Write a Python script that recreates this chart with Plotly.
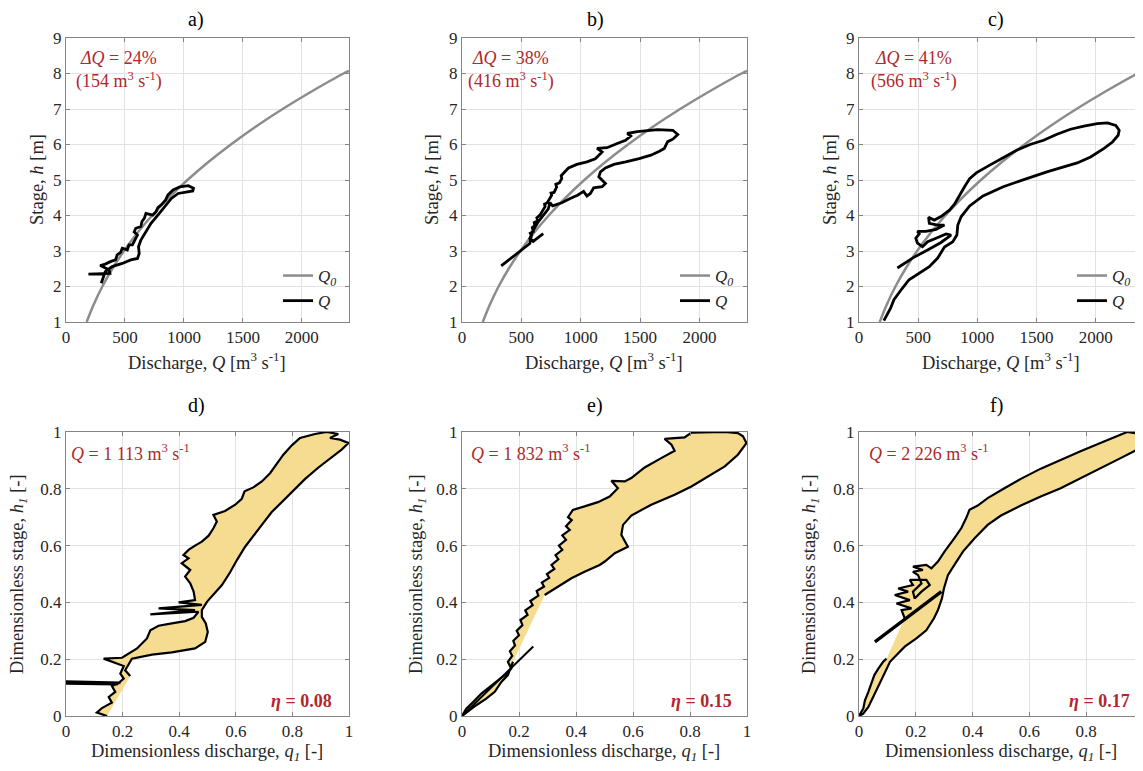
import plotly.graph_objects as go

# ---------------- data ----------------
panel_titles = ["a)", "b)", "c)", "d)", "e)", "f)"]
dQ_labels = ["<i>ΔQ</i> = 24%<br>(154 m<sup>3</sup> s<sup>-1</sup>)",
             "<i>ΔQ</i> = 38%<br>(416 m<sup>3</sup> s<sup>-1</sup>)",
             "<i>ΔQ</i> = 41%<br>(566 m<sup>3</sup> s<sup>-1</sup>)"]
Qpeak_labels = ["<i>Q</i> = 1 113 m<sup>3</sup> s<sup>-1</sup>",
                "<i>Q</i> = 1 832 m<sup>3</sup> s<sup>-1</sup>",
                "<i>Q</i> = 2 226 m<sup>3</sup> s<sup>-1</sup>"]
eta_labels = ["<b><i>η</i> = 0.08</b>", "<b><i>η</i> = 0.15</b>", "<b><i>η</i> = 0.17</b>"]

# steady rating curve Q0 (discharge, stage)
Q0_Q = [175, 236, 308, 393, 491, 603, 730, 872, 1030, 1205, 1398, 1608, 1837, 2086, 2354, 2400]
Q0_h = [1.0, 1.5, 2.0, 2.5, 3.0, 3.5, 4.0, 4.5, 5.0, 5.5, 6.0, 6.5, 7.0, 7.5, 8.0, 8.07]

# observed loops (Q [m3/s], h [m])
a_loop = [(299, 2.09), (333, 2.42), (391, 2.56), (477, 2.65), (549, 2.75), (606, 2.79), (621, 2.93),
          (615, 3.12), (635, 3.31), (678, 3.54), (721, 3.78), (779, 4.01), (836, 4.25), (894, 4.48),
          (951, 4.62), (1023, 4.67), (1075, 4.69), (1081, 4.77), (1037, 4.84), (966, 4.81), (908, 4.72),
          (865, 4.58), (845, 4.44), (808, 4.30), (779, 4.22), (764, 4.11), (736, 4.01), (678, 4.06),
          (664, 3.92), (644, 3.83), (635, 3.69), (592, 3.64), (578, 3.54), (606, 3.45), (586, 3.31),
          (563, 3.17), (534, 3.17), (520, 3.03), (477, 3.08), (463, 2.96), (434, 2.89), (420, 2.75),
          (376, 2.70), (333, 2.63), (290, 2.59), (365, 2.47), (372, 2.37), (190, 2.35)]
b_loop = [(330, 2.58), (429, 2.83), (514, 3.07), (571, 3.21), (585, 3.44), (575, 3.50), (600, 3.55),
          (592, 3.66), (613, 3.72), (608, 3.80), (640, 3.85), (630, 3.93), (656, 4.01), (684, 4.19),
          (700, 4.25), (695, 4.32), (718, 4.36), (755, 4.57), (750, 4.63), (775, 4.65), (797, 4.80),
          (790, 4.88), (820, 4.92), (840, 5.04), (835, 5.12), (860, 5.21), (897, 5.34), (967, 5.44),
          (1052, 5.51), (1123, 5.60), (1180, 5.79), (1137, 5.89), (1222, 5.91), (1307, 6.03),
          (1378, 6.12), (1421, 6.24), (1392, 6.31), (1477, 6.36), (1562, 6.40), (1647, 6.42),
          (1775, 6.40), (1817, 6.28), (1775, 6.15), (1732, 6.08), (1704, 5.89), (1662, 5.81),
          (1591, 5.70), (1492, 5.60), (1378, 5.51), (1279, 5.44), (1208, 5.34), (1166, 5.23),
          (1152, 5.09), (1208, 4.90), (1180, 4.81), (1109, 4.78), (1081, 4.62), (1052, 4.55),
          (1024, 4.68), (973, 4.57), (911, 4.48), (840, 4.36), (763, 4.27), (741, 4.36), (727, 4.19),
          (684, 4.01), (642, 3.82), (599, 3.58), (571, 3.35), (599, 3.27), (684, 3.49)]
c_loop = [(324, 2.52), (452, 2.80), (580, 3.03), (693, 3.24), (778, 3.45), (736, 3.48), (651, 3.36),
          (580, 3.26), (537, 3.12), (494, 3.22), (480, 3.36), (509, 3.48), (494, 3.55), (565, 3.55),
          (651, 3.61), (722, 3.73), (665, 3.73), (594, 3.78), (588, 3.95), (636, 3.87), (693, 3.97),
          (764, 4.15), (807, 4.32), (849, 4.58), (892, 4.81), (935, 5.04), (991, 5.20), (1105, 5.42),
          (1219, 5.63), (1332, 5.84), (1446, 6.00), (1560, 6.12), (1673, 6.29), (1787, 6.43),
          (1901, 6.52), (2014, 6.59), (2099, 6.61), (2170, 6.54), (2199, 6.40), (2190, 6.26),
          (2142, 6.07), (2071, 5.89), (1957, 5.65), (1844, 5.48), (1730, 5.37), (1588, 5.23),
          (1418, 5.04), (1219, 4.81), (1048, 4.55), (935, 4.27), (864, 3.97), (835, 3.73), (827, 3.45),
          (793, 3.26), (722, 3.11), (693, 2.96), (665, 2.80), (594, 2.56), (509, 2.37), (423, 2.19),
          (366, 1.95), (324, 1.77), (295, 1.63), (267, 1.39), (239, 1.20), (210, 1.04)]

# dimensionless loops (q1, h1)
d_loop = [(0.145, 0.0), (0.109, 0.012), (0.127, 0.028), (0.162, 0.047), (0.151, 0.067), (0.174, 0.085),
          (0.162, 0.106), (0.192, 0.118), (0.0, 0.122), (0.0, 0.114), (0.180, 0.111), (0.204, 0.132),
          (0.192, 0.149), (0.204, 0.176), (0.133, 0.202), (0.198, 0.205), (0.251, 0.238), (0.286, 0.273),
          (0.298, 0.302), (0.327, 0.318), (0.374, 0.326), (0.421, 0.334), (0.451, 0.346), (0.468, 0.367),
          (0.298, 0.358), (0.456, 0.373), (0.327, 0.379), (0.480, 0.391), (0.398, 0.400), (0.456, 0.408),
          (0.451, 0.438), (0.439, 0.467), (0.421, 0.491), (0.439, 0.514), (0.409, 0.538), (0.433, 0.555),
          (0.415, 0.567), (0.433, 0.585), (0.456, 0.600), (0.480, 0.614), (0.504, 0.635), (0.521, 0.661),
          (0.533, 0.685), (0.521, 0.708), (0.562, 0.722), (0.598, 0.744), (0.621, 0.765), (0.631, 0.791),
          (0.662, 0.805), (0.692, 0.826), (0.721, 0.855), (0.745, 0.887), (0.768, 0.920), (0.798, 0.953),
          (0.827, 0.979), (0.880, 0.993), (0.921, 1.0), (0.962, 0.993), (0.933, 0.979), (0.968, 0.973),
          (0.998, 0.961), (0.974, 0.938), (0.939, 0.911), (0.892, 0.875), (0.845, 0.835), (0.809, 0.800),
          (0.768, 0.761), (0.727, 0.718), (0.692, 0.673), (0.662, 0.632), (0.633, 0.596), (0.604, 0.549),
          (0.580, 0.506), (0.551, 0.461), (0.521, 0.426), (0.498, 0.402), (0.480, 0.373), (0.480, 0.349),
          (0.494, 0.326), (0.501, 0.296), (0.492, 0.261), (0.456, 0.238), (0.374, 0.224), (0.304, 0.216),
          (0.233, 0.202), (0.221, 0.179), (0.209, 0.161), (0.227, 0.141)]
e_loop = [(0.290, 0.426), (0.337, 0.455), (0.384, 0.485), (0.430, 0.508), (0.483, 0.532), (0.501, 0.544),
          (0.536, 0.573), (0.582, 0.596), (0.559, 0.638), (0.565, 0.673), (0.594, 0.706), (0.664, 0.744),
          (0.746, 0.779), (0.805, 0.808), (0.863, 0.844), (0.922, 0.879), (0.968, 0.920), (0.998, 0.961),
          (0.986, 0.985), (0.968, 0.996), (0.922, 1.0), (0.851, 1.0), (0.805, 0.998), (0.781, 0.981),
          (0.711, 0.976), (0.735, 0.955), (0.746, 0.934), (0.699, 0.908), (0.641, 0.875), (0.594, 0.838),
          (0.571, 0.826), (0.524, 0.828), (0.547, 0.802), (0.518, 0.773), (0.477, 0.753), (0.430, 0.738),
          (0.389, 0.726), (0.372, 0.700), (0.385, 0.690), (0.365, 0.668), (0.378, 0.655), (0.352, 0.636),
          (0.365, 0.620), (0.340, 0.600), (0.352, 0.585), (0.328, 0.566), (0.338, 0.552), (0.314, 0.532),
          (0.324, 0.518), (0.298, 0.500), (0.306, 0.486), (0.280, 0.470), (0.288, 0.456), (0.262, 0.440),
          (0.268, 0.424), (0.240, 0.405), (0.248, 0.390), (0.222, 0.372), (0.230, 0.356), (0.205, 0.338),
          (0.212, 0.320), (0.192, 0.300), (0.200, 0.284), (0.180, 0.265), (0.186, 0.248), (0.168, 0.228),
          (0.176, 0.212), (0.161, 0.191), (0.173, 0.167), (0.156, 0.149), (0.126, 0.126),
          (0.097, 0.102), (0.068, 0.079), (0.039, 0.049), (0.015, 0.026), (0.0, 0.0), (0.021, 0.016),
          (0.050, 0.038), (0.085, 0.061), (0.115, 0.085), (0.138, 0.120), (0.161, 0.144), (0.179, 0.191)]
e_tail = [(0.0, 0.0), (0.250, 0.245)]
f_loop = [(0.161, 0.344), (0.150, 0.373), (0.185, 0.379), (0.132, 0.396), (0.179, 0.408), (0.126, 0.426),
          (0.173, 0.438), (0.138, 0.449), (0.190, 0.461), (0.179, 0.479), (0.237, 0.479), (0.249, 0.461),
          (0.220, 0.438), (0.196, 0.414), (0.190, 0.438), (0.220, 0.467), (0.208, 0.496), (0.190, 0.508),
          (0.225, 0.514), (0.190, 0.526), (0.237, 0.532), (0.255, 0.520), (0.278, 0.544), (0.301, 0.579),
          (0.336, 0.626), (0.360, 0.661), (0.377, 0.696), (0.389, 0.726), (0.418, 0.741), (0.453, 0.767),
          (0.512, 0.802), (0.570, 0.835), (0.640, 0.871), (0.710, 0.902), (0.780, 0.932), (0.850, 0.961),
          (0.909, 0.985), (0.944, 1.0), (0.973, 0.996), (0.993, 0.973), (0.998, 0.955), (0.979, 0.938),
          (0.921, 0.908), (0.850, 0.873), (0.780, 0.838), (0.710, 0.802), (0.640, 0.773), (0.570, 0.741),
          (0.500, 0.706), (0.453, 0.673), (0.407, 0.626), (0.366, 0.579), (0.336, 0.532), (0.313, 0.496),
          (0.299, 0.449), (0.292, 0.414), (0.278, 0.373), (0.264, 0.344), (0.237, 0.302), (0.202, 0.273),
          (0.161, 0.244), (0.132, 0.216), (0.109, 0.191), (0.097, 0.165), (0.082, 0.134), (0.065, 0.102),
          (0.050, 0.067), (0.033, 0.032), (0.015, 0.008), (0.0, 0.0), (0.015, 0.026), (0.021, 0.055),
          (0.033, 0.085), (0.042, 0.114), (0.054, 0.144), (0.068, 0.167), (0.085, 0.191), (0.097, 0.202)]
f_tail = [(0.056, 0.261), (0.290, 0.438)]

Q_ticks = [0, 500, 1000, 1500, 2000]

# ---------------- layout geometry (screen pixels of the 1143x771 window) ----------------
OFF = 8                      # default page margin of the html body
W, H = 1143 - OFF, 771 - OFF
x_dom_px = [(66, 349), (462, 747), (859, 1143)]
y_top_px = (38, 322)
y_bot_px = (432, 716)

def px_x(p):
    return (p - OFF) / W

def px_y(p):
    return 1 - (p - OFF) / H

RED = "#B0282C"
FONT = "Liberation Serif"
FILL = "#F5DC90"

fig = go.Figure()

def unzip(pts):
    return [p[0] for p in pts], [p[1] for p in pts]

legend_names = ["legend", "legend2", "legend3"]
top_loops = [a_loop, b_loop, c_loop]
for i in range(3):
    ax = "" if i == 0 else str(i + 1)
    fig.add_trace(go.Scatter(x=Q0_Q, y=Q0_h, mode="lines", line=dict(color="#8c8c8c", width=2.5, shape="spline"),
                             name="<i>Q</i><sub><i>0</i></sub>", xaxis="x" + ax, yaxis="y" + ax,
                             legend=legend_names[i], showlegend=True))
    lx, ly = unzip(top_loops[i])
    fig.add_trace(go.Scatter(x=lx, y=ly, mode="lines", line=dict(color="black", width=2.8),
                             name="<i>Q</i>", xaxis="x" + ax, yaxis="y" + ax,
                             legend=legend_names[i], showlegend=True))

bot_loops = [d_loop, e_loop, f_loop]
bot_tails = [None, e_tail, f_tail]
tail_w = [2, 2, 3.2]
for i in range(3):
    ax = str(i + 4)
    lx, ly = unzip(bot_loops[i])
    fig.add_trace(go.Scatter(x=lx, y=ly, mode="lines", fill="toself", fillcolor=FILL,
                             line=dict(width=0, color=FILL), showlegend=False,
                             xaxis="x" + ax, yaxis="y" + ax, hoverinfo="skip"))
    fig.add_trace(go.Scatter(x=lx, y=ly, mode="lines", line=dict(color="black", width=2.2),
                             showlegend=False, xaxis="x" + ax, yaxis="y" + ax))
    if bot_tails[i] is not None:
        tx, ty = unzip(bot_tails[i])
        fig.add_trace(go.Scatter(x=tx, y=ty, mode="lines", line=dict(color="black", width=tail_w[i]),
                                 showlegend=False, xaxis="x" + ax, yaxis="y" + ax))

axis_style = dict(showline=True, linecolor="#858585", linewidth=1, mirror="ticks", ticks="inside",
                  ticklen=4, tickcolor="#858585", showgrid=True, gridcolor="#e2e2e2", gridwidth=1,
                  zeroline=False, automargin=False,
                  tickfont=dict(family=FONT, size=17, color="#262626"))

layout = {}
for i in range(6):
    n = i + 1
    xs = "xaxis" if n == 1 else f"xaxis{n}"
    ys = "yaxis" if n == 1 else f"yaxis{n}"
    xd = x_dom_px[i % 3]
    yd = y_top_px if i < 3 else y_bot_px
    xdict = dict(axis_style, domain=[px_x(xd[0]), min(1.0, px_x(xd[1]))],
                 anchor="y" if n == 1 else f"y{n}")
    ydict = dict(axis_style, domain=[px_y(yd[1]), px_y(yd[0])],
                 anchor="x" if n == 1 else f"x{n}")
    if i < 3:
        xdict.update(range=[0, 2400], tickvals=Q_ticks)
        ydict.update(range=[1, 9], dtick=1, tick0=1)
    else:
        xdict.update(range=[0, 1], dtick=0.2, tick0=0)
        ydict.update(range=[0, 1], dtick=0.2, tick0=0)
    layout[xs] = xdict
    layout[ys] = ydict

annotations = []
def ann(text, x, y, size=16, color="#262626", xanchor="center", yanchor="middle", angle=0):
    annotations.append(dict(text=text, x=px_x(x), y=px_y(y), xref="paper", yref="paper",
                            showarrow=False, xanchor=xanchor, yanchor=yanchor, textangle=angle,
                            font=dict(family=FONT, size=size, color=color)))

title_x = [196, 595, 996]
for i in range(3):
    ann(panel_titles[i], title_x[i], 20, size=20, color="black")
    ann(panel_titles[i + 3], title_x[i], 405, size=20, color="black")

xt_center = [207, 604, 1001]
yt_top = [37, 432, 830]
yt_bot = [18, 417, 810]
for i in range(3):
    ann("Discharge, <i>Q</i> [m<sup>3</sup> s<sup>-1</sup>]", xt_center[i], 361, size=18.5)
    ann("Stage, <i>h</i> [m]", yt_top[i], 180, size=18.5, angle=-90)
    ann("Dimensionless discharge, <i>q</i><sub><i>1</i></sub> [-]", xt_center[i], 752, size=18.5)
    ann("Dimensionless stage, <i>h</i><sub><i>1</i></sub> [-]", yt_bot[i], 574, size=18.5, angle=-90)

dq_x = [119, 511, 914]
qp_x = [130, 530, 928]
eta_x = [334, 734, 1132]
for i in range(3):
    ann(dQ_labels[i], dq_x[i], 70, size=18, color=RED)
    ann(Qpeak_labels[i], qp_x[i], 453, size=18, color=RED)
    ann(eta_labels[i], eta_x[i], 701, size=18, color=RED, xanchor="right")

legend_left = [278, 675, 1072]
legend_common = dict(bgcolor="rgba(0,0,0,0)", borderwidth=0, xanchor="left", yanchor="top",
                     font=dict(family=FONT, size=17, color="#262626"), tracegroupgap=0, itemwidth=30)
for i, ln in enumerate(legend_names):
    layout[ln] = dict(legend_common, x=px_x(legend_left[i]), y=px_y(258))

fig.update_layout(width=W, height=H, margin=dict(l=0, r=0, t=0, b=0, autoexpand=False),
                  paper_bgcolor="white", plot_bgcolor="white",
                  font=dict(family=FONT, size=16, color="#262626"),
                  annotations=annotations, **layout)

fig.write_html("out.html")
